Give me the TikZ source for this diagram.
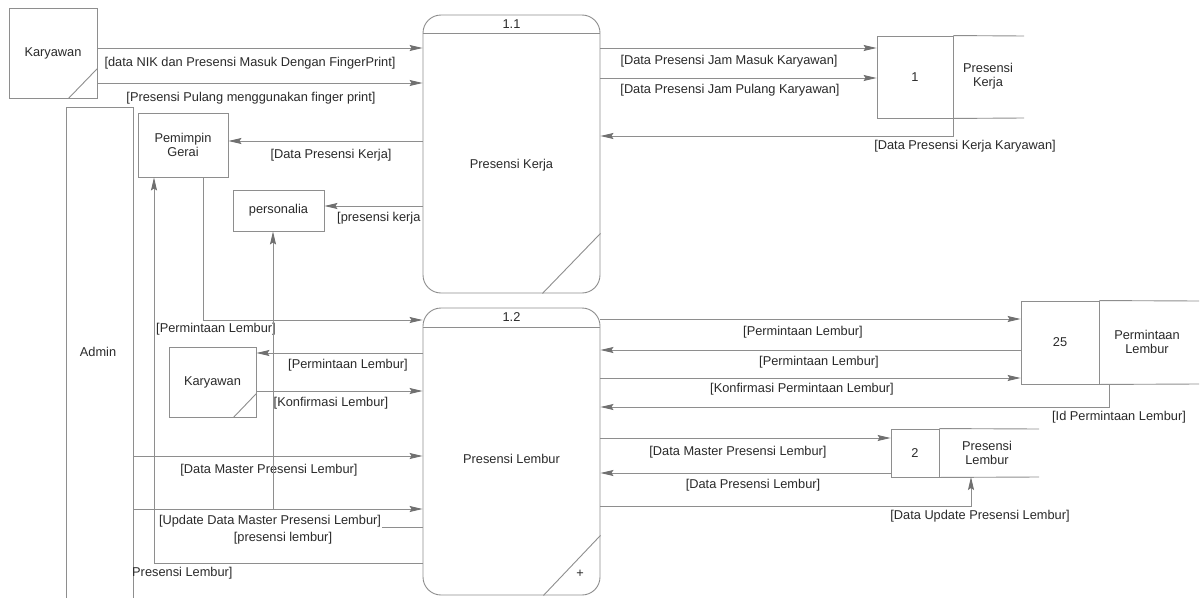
\documentclass[tikz,border=0pt]{standalone}
\usepackage{fontspec}
\setmainfont{Liberation Sans}
\usetikzlibrary{arrows.meta}
\definecolor{ln}{HTML}{8E8E8E}
\definecolor{ah}{HTML}{707070}
\definecolor{tx}{HTML}{2A2A2A}
\begin{document}
\begin{tikzpicture}[x=1pt,y=-1pt,
  font=\fontsize{12.8}{14.6}\selectfont,
  flow/.style={draw=ln, line width=0.9pt, -{Stealth[length=13pt,width=6pt,inset=2pt,color=ah]}},
  plain/.style={draw=ln, line width=0.9pt},
  lbl/.style={text=tx, inner sep=0pt},
  box/.style={draw=ln, line width=0.9pt, fill=white, inner sep=0pt, text=tx, align=center},
  proc/.style={box, rounded corners=18pt},
]
\useasboundingbox (0,0) rectangle (1202,597);
\clip (0,0) rectangle (1202,597);
\fill[white] (0,0) rectangle (1202,597);

% ---------- entities ----------
\node[box, minimum width=88pt, minimum height=90pt] (kar1) at (53,53) {Karyawan};
\draw[plain] ([xshift=-29pt]kar1.south east) -- ([yshift=30pt]kar1.south east);

\node[box, minimum width=67pt, minimum height=513pt] (admin) at (99.5,363.5) {};
\node[lbl] (admint) at (98,352) {Admin};

\node[box, minimum width=90pt, minimum height=64pt] (pg) at (183,145) {Pemimpin\\Gerai};
\node[box, minimum width=91pt, minimum height=41pt] (pers) at (278.5,210.5) {personalia};

\node[box, minimum width=87pt, minimum height=70pt] (kar2) at (212.5,382) {Karyawan};
\draw[plain] ([xshift=-23pt]kar2.south east) -- ([yshift=24pt]kar2.south east);

% ---------- processes ----------
\node[proc, minimum width=177pt, minimum height=278pt] (p11) at (511.5,154) {};
\draw[plain] (p11.west |- 0,33) -- (p11.east |- 0,33);
\node[lbl] (p11n) at (511.5,24) {1.1};
\node[lbl] (p11t) at (511.5,165) {Presensi Kerja};
\draw[plain] ([xshift=-58pt]p11.south east) -- ([yshift=60pt]p11.south east);

\node[proc, minimum width=177pt, minimum height=287pt] (p12) at (511.5,451.5) {};
\draw[plain] (p12.west |- 0,327) -- (p12.east |- 0,327);
\node[lbl] (p12n) at (511.5,317) {1.2};
\node[lbl] (p12t) at (511.5,459) {Presensi Lembur};
\draw[plain] ([xshift=-57pt]p12.south east) -- ([yshift=60pt]p12.south east);
\node[lbl] (p12plus) at (580,574) {+};

% ---------- data stores ----------
\node[box, minimum width=76pt, minimum height=82pt] (s1n) at (915,77) {1};
\draw[plain] (s1n.north east) -- (1024,36);
\draw[plain] (s1n.south east) -- (1024,118);
\node[lbl, align=center] (s1t) at (988,76) {Presensi\\Kerja};

\node[box, minimum width=78pt, minimum height=83pt] (s25n) at (1060,342.5) {25};
\draw[plain] (s25n.north east) -- (1199,301);
\draw[plain] (s25n.south east) -- (1199,384);
\node[lbl, align=center] (s25t) at (1147,342) {Permintaan\\Lembur};

\node[box, minimum width=48pt, minimum height=48pt] (s2n) at (915,453) {2};
\draw[plain] (s2n.north east) -- (1039,429);
\draw[plain] (s2n.south east) -- (1039,477);
\node[lbl, align=center] (s2t) at (987,453) {Presensi\\Lembur};

% ---------- connectors: left of 1.1 ----------
\draw[flow] (kar1.east |- 0,48) -- (p11.west |- 0,48);
\node[lbl] (l1) at (250,63) {[data NIK dan Presensi Masuk Dengan FingerPrint]};
\draw[flow] (kar1.east |- 0,83) -- (p11.west |- 0,83);
\node[lbl] (l2) at (251,98) {[Presensi Pulang menggunakan finger print]};
\draw[flow] (p11.west |- 0,141) -- (pg.east |- 0,141);
\node[lbl] (l3) at (331,155) {[Data Presensi Kerja]};
\draw[flow] (p11.west |- 0,206) -- (pers.east |- 0,206);
\node[lbl, anchor=west] (l4) at (337,218) {[presensi kerja};

% ---------- connectors: left of 1.2 ----------
\draw[flow] ([xshift=20pt]pg.south) |- (p12.west |- 0,320);
\node[lbl] (l5) at (216,329) {[Permintaan Lembur]};
\draw[flow] (p12.west |- 0,353) -- (kar2.east |- 0,353);
\node[lbl] (l6) at (348,365) {[Permintaan Lembur]};
\draw[flow] (kar2.east |- 0,391) -- (p12.west |- 0,391);
\node[lbl] (l7) at (331,403) {[Konfirmasi Lembur]};
\draw[flow] (admin.east |- 0,456) -- (p12.west |- 0,456);
\node[lbl] (l8) at (269,470) {[Data Master Presensi Lembur]};
\draw[flow] (admin.east |- 0,509) -- (p12.west |- 0,509);
\node[lbl] (l9) at (270,521) {[Update Data Master Presensi Lembur]};
\coordinate (c10a) at (382,527);
\coordinate (c10b) at (273,509);
\draw[plain] (p12.west |- 0,527) -- (c10a);
\draw[flow] (c10b) -- (c10b |- pers.south);
\node[lbl] (l10) at (283,538) {[presensi lembur]};
\draw[flow] (p12.west |- 0,563) -| ([xshift=-29pt]pg.south);
\node[lbl, anchor=west] (l11) at (132,573) {Presensi Lembur]};

% ---------- connectors: right of 1.1 ----------
\draw[flow] (p11.east |- 0,48) -- (s1n.west |- 0,48);
\node[lbl] (l12) at (729,61) {[Data Presensi Jam Masuk Karyawan]};
\draw[flow] (p11.east |- 0,78) -- (s1n.west |- 0,78);
\node[lbl] (l13) at (730,90) {[Data Presensi Jam Pulang Karyawan]};
\draw[flow] (s1n.south east) |- (p11.east |- 0,136);
\node[lbl] (l14) at (965,146) {[Data Presensi Kerja Karyawan]};

% ---------- connectors: right of 1.2 ----------
\draw[flow] (p12.east |- 0,319) -- (s25n.west |- 0,319);
\node[lbl] (l15) at (803,332) {[Permintaan Lembur]};
\draw[flow] (s25n.west |- 0,350) -- (p12.east |- 0,350);
\node[lbl] (l16) at (819,362) {[Permintaan Lembur]};
\draw[flow] (p12.east |- 0,378) -- (s25n.west |- 0,378);
\node[lbl] (l17) at (802,389) {[Konfirmasi Permintaan Lembur]};
\coordinate (s25b) at (1109,384);
\draw[flow] (s25b) |- (p12.east |- 0,407);
\node[lbl] (l18) at (1119,417) {[Id Permintaan Lembur]};
\draw[flow] (p12.east |- 0,438) -- (s2n.west |- 0,438);
\node[lbl] (l19) at (738,452) {[Data Master Presensi Lembur]};
\draw[flow] (s2n.west |- 0,473) -- (p12.east |- 0,473);
\node[lbl] (l20) at (753,485) {[Data Presensi Lembur]};
\coordinate (s2b) at (971,477);
\draw[flow] (p12.east |- 0,506) -| (s2b);
\node[lbl] (l21) at (980,516) {[Data Update Presensi Lembur]};
\end{tikzpicture}
\end{document}
